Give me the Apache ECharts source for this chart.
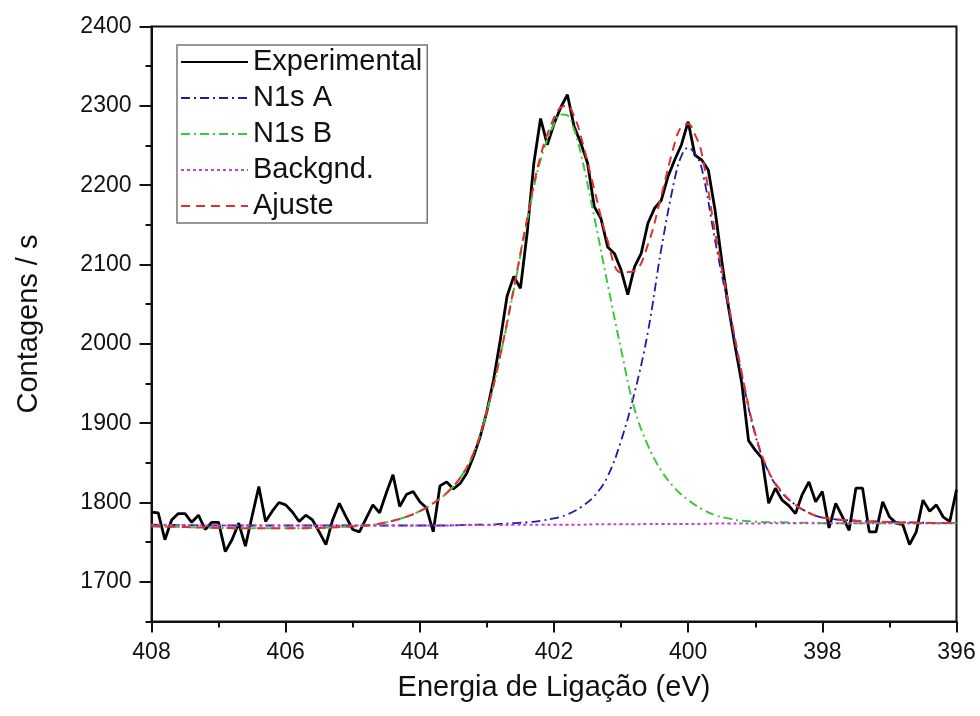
<!DOCTYPE html>
<html>
<head>
<meta charset="utf-8">
<script src="https://cdn.jsdelivr.net/npm/echarts@6/dist/echarts.min.js"></script>
<style>
html,body{margin:0;padding:0;background:#fff;}
#c{width:980px;height:716px;}
</style>
</head>
<body>
<div id="c"></div>
<script>
// Experimental data (binding energy, counts/s)
const expE = [408.0,407.9,407.8,407.7,407.6,407.5,407.4,407.3,407.2,407.1,
407.0,406.9,406.8,406.7,406.6,406.5,406.4,406.3,406.2,406.1,
406.0,405.9,405.8,405.7,405.6,405.5,405.4,405.3,405.2,405.1,
405.0,404.9,404.8,404.7,404.6,404.5,404.4,404.3,404.2,404.1,
404.0,403.9,403.8,403.7,403.6,403.5,403.4,403.3,403.2,403.1,
403.0,402.9,402.8,402.7,402.6,402.5,402.4,402.3,402.2,402.1,
402.0,401.9,401.8,401.7,401.6,401.5,401.4,401.3,401.2,401.1,
401.0,400.9,400.8,400.7,400.6,400.5,400.4,400.3,400.2,400.1,
400.0,399.9,399.8,399.7,399.6,399.5,399.4,399.3,399.2,399.1,
399.0,398.9,398.8,398.7,398.6,398.5,398.4,398.3,398.2,398.1,
398.0,397.9,397.8,397.7,397.6,397.5,397.4,397.3,397.2,397.1,
397.0,396.9,396.8,396.7,396.6,396.5,396.4,396.3,396.2,396.1,
396.0];
const expV = [1788,1787,1753,1778,1786,1786,1775,1784,1766,1775,
1775,1738,1753,1774,1745,1783,1820,1776,1789,1800,
1797,1788,1776,1784,1778,1763,1747,1778,1799,1782,
1766,1763,1780,1797,1787,1812,1835,1795,1810,1814,
1801,1793,1763,1821,1826,1817,1824,1837,1858,1883,
1915,1955,2005,2060,2085,2070,2140,2228,2284,2251,
2277,2298,2314,2274,2253,2228,2173,2158,2122,2114,
2093,2062,2097,2114,2152,2171,2181,2211,2232,2251,
2280,2238,2232,2219,2169,2105,2047,1997,1950,1878,
1866,1856,1799,1818,1803,1796,1786,1810,1826,1801,
1814,1768,1799,1782,1765,1818,1818,1763,1763,1801,
1782,1774,1772,1747,1763,1803,1789,1797,1782,1776,
1816];

// Fitted curves sampled at these energies
const fitE = [408,407.5,407,406.5,406,405.5,405,404.7,404.4,404.2,
404,403.8,403.6,403.4,403.2,403,402.8,402.6,402.4,402.2,
402,401.9,401.8,401.7,401.6,401.4,401.2,401,400.8,400.6,
400.4,400.2,400.1,400,399.9,399.8,399.6,399.4,399.2,399,
398.8,398.6,398.4,398.2,398,397.5,397,396.5,396];
const n1sA = [1772,1771.5,1771,1771,1771,1771,1771,1771,1771,1771,
1771,1771,1771,1771.5,1772,1772,1773,1774,1775,1777,
1780,1782,1785,1789,1794,1808,1833,1878,1938,2015,
2120,2208,2237,2247,2240,2222,2131,2045,1960,1885,
1838,1812,1797,1787,1781,1777,1775.5,1774.5,1774];
const n1sB = [1770,1769,1768,1767.5,1767.5,1768,1770,1772,1777,1782,
1789,1799,1812,1831,1862,1915,1985,2068,2155,2232,
2277,2289,2288,2270,2240,2160,2075,1993,1918,1872,
1840,1818,1810,1803,1797,1792,1784,1780,1777,1776,
1775,1775,1774.5,1774.5,1774,1774,1774,1774,1774];
const backgnd = [1772,1771.5,1771,1771,1771,1771,1771,1771,1771,1771,
1771,1771,1771,1771.5,1771.5,1771.5,1771.5,1772,1772,1772,
1772,1772,1772,1772,1772,1772.5,1772.5,1772.5,1772.5,1773,
1773,1773,1773,1773,1773,1773,1773.5,1773.5,1773.5,1773.5,
1774,1774,1774,1774,1774,1774,1774,1774,1774];
const ajuste = [1770,1769,1768,1767.5,1767.5,1768,1770,1772,1777,1782,
1789,1799,1812,1831,1862,1915,1986,2070,2158,2237,
2285,2298,2300,2287,2262,2195,2130,2090,2092,2125,
2187,2253,2274,2277,2264,2241,2141,2051,1963,1887,
1839,1813,1797,1787,1781,1777,1775.5,1774.5,1774];

const yTicks = [1700,1800,1900,2000,2100,2200,2300,2400];
const yMinorTicks = [1650,1750,1850,1950,2050,2150,2250,2350];

const pairs = (xs, ys) => xs.map((x, i) => [x, ys[i]]);
const FONT = 'Liberation Sans, Arial, sans-serif';

const chart = echarts.init(document.getElementById('c'), null, {renderer: 'canvas'});
chart.setOption({
  animation: false,
  backgroundColor: '#fff',
  textStyle: {fontFamily: FONT, color: '#111'},
  grid: {left: 151.5, right: 23.5, top: 26.5, bottom: 94.5, show: true, borderColor: '#111', borderWidth: 2},
  legend: {
    orient: 'vertical', left: 177, top: 45,
    itemWidth: 67, itemHeight: 14, itemGap: 6,
    padding: [2, 5, 2, 3],
    borderColor: '#777', borderWidth: 1.5,
    itemStyle: {opacity: 0},
    textStyle: {fontFamily: FONT, fontSize: 29, color: '#111', lineHeight: 30},
    data: ['Experimental', 'N1s A', 'N1s B', 'Backgnd.', 'Ajuste']
  },
  xAxis: {
    type: 'value', min: 396, max: 408, interval: 2, inverse: true,
    name: 'Energia de Ligação (eV)', nameLocation: 'middle', nameGap: 52,
    nameTextStyle: {fontFamily: FONT, fontSize: 29, color: '#111'},
    axisLine: {show: true, onZero: false, lineStyle: {color: '#111', width: 2}},
    axisTick: {show: true, length: 11, lineStyle: {color: '#111', width: 2}},
    minorTick: {show: true, splitNumber: 2, length: 6, lineStyle: {color: '#111', width: 2}},
    axisLabel: {fontFamily: FONT, fontSize: 23, color: '#111', margin: 20},
    splitLine: {show: false}
  },
  yAxis: [{
    type: 'value', min: 1650, max: 2400,
    name: 'Contagens / s', nameLocation: 'middle', nameGap: 108,
    nameTextStyle: {fontFamily: FONT, fontSize: 29, color: '#111'},
    axisLine: {show: true, onZero: false, lineStyle: {color: '#111', width: 2}},
    axisTick: {show: true, customValues: yTicks, length: 12, lineStyle: {color: '#111', width: 2}},
    axisLabel: {customValues: yTicks, formatter: v => String(v), fontFamily: FONT, fontSize: 23, color: '#111', margin: 20},
    splitLine: {show: false}
  }, {
    type: 'value', min: 1650, max: 2400, position: 'left',
    axisLine: {show: false},
    axisTick: {show: true, customValues: yMinorTicks, length: 6, lineStyle: {color: '#111', width: 2}},
    axisLabel: {show: false},
    splitLine: {show: false}
  }],
  series: [
    {name: 'Experimental', type: 'line', data: pairs(expE, expV), symbol: 'none',
     lineStyle: {color: '#000', width: 2.8}, itemStyle: {color: '#000'}, z: 2},
    {name: 'N1s A', type: 'line', data: pairs(fitE, n1sA), symbol: 'none', smooth: 0.4,
     lineStyle: {color: '#1c1ca8', width: 1.8, type: [9, 4, 2, 4]}, itemStyle: {color: '#1c1ca8'}, z: 3},
    {name: 'N1s B', type: 'line', data: pairs(fitE, n1sB), symbol: 'none', smooth: 0.4,
     lineStyle: {color: '#3cc83c', width: 2, type: [9, 4, 2, 4]}, itemStyle: {color: '#3cc83c'}, z: 3},
    {name: 'Backgnd.', type: 'line', data: pairs(fitE, backgnd), symbol: 'none', smooth: 0.4,
     lineStyle: {color: '#c83cd0', width: 2, type: [3, 3]}, itemStyle: {color: '#c83cd0'}, z: 4},
    {name: 'Ajuste', type: 'line', data: pairs(fitE, ajuste), symbol: 'none', smooth: 0.4,
     lineStyle: {color: '#dc3232', width: 2, type: [9, 6]}, itemStyle: {color: '#dc3232'}, z: 5}
  ]
});
</script>
</body>
</html>
